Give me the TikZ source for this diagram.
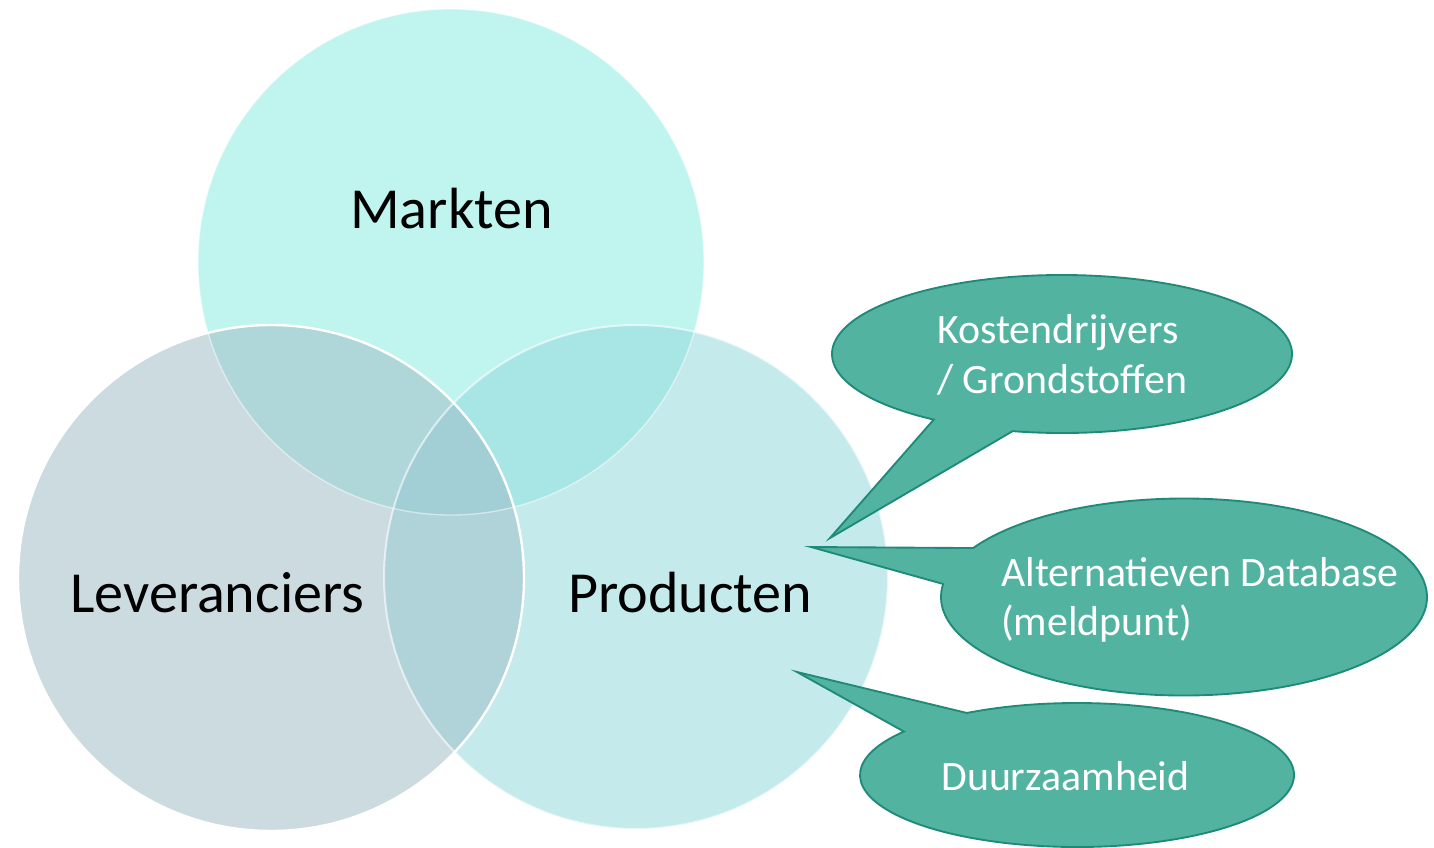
\documentclass[tikz,border=0pt]{standalone}
\usepackage{fontspec}
\setmainfont{Carlito}
\definecolor{cM}{HTML}{C0F5EF}
\definecolor{cL}{HTML}{CCDBE0}
\definecolor{cP}{HTML}{C5EAEB}
\definecolor{cML}{HTML}{AFD7DA}
\definecolor{cMP}{HTML}{A8E6E6}
\definecolor{cLP}{HTML}{B0D3DA}
\definecolor{cMLP}{HTML}{A2CED5}
\definecolor{callfill}{HTML}{52B3A1}
\definecolor{calldraw}{HTML}{1F8A78}
\begin{document}
\begin{tikzpicture}[x=0.75pt,y=-0.75pt,
  bigtext/.style={font=\fontsize{43.6}{52}\selectfont, text=black, inner sep=0pt},
  calltext/.style={font=\fontsize{31.4}{37.5}\selectfont, text=white, inner sep=0pt},
  callout/.style={fill=callfill, draw=calldraw, line width=1.4pt, line join=miter}]
\useasboundingbox (0,0) rectangle (1434,847);
\coordinate (M) at (451,262);
\coordinate (L) at (271,578);
\coordinate (P) at (636,577);
% circle fills
\fill[cM] (M) circle[radius=253];
\fill[cL] (L) circle[radius=253];
\fill[cP] (P) circle[radius=252];
% pairwise overlaps
\begin{scope}\clip (M) circle[radius=253]; \fill[cML] (L) circle[radius=253]; \end{scope}
\begin{scope}\clip (M) circle[radius=253]; \fill[cMP] (P) circle[radius=252]; \end{scope}
\begin{scope}\clip (L) circle[radius=253]; \fill[cLP] (P) circle[radius=252]; \end{scope}
\begin{scope}\clip (M) circle[radius=253]; \clip (L) circle[radius=253]; \fill[cMLP] (P) circle[radius=252]; \end{scope}
% white rims
\draw[white, opacity=0.5, line width=1pt] (M) circle[radius=253];
\draw[white, line width=1.8pt] (L) circle[radius=253];
\draw[white, opacity=0.6, line width=1.5pt] (P) circle[radius=252];
% labels
\node[bigtext, anchor=base west] (tM) at (350,228) {Markten};
\node[bigtext, anchor=base west] (tL) at (70,612) {Leveranciers};
\node[bigtext, anchor=base west] (tP) at (568,612) {Producten};
% callouts
\coordinate (C1) at (1062,354);
\coordinate (T1) at (830,538);
\draw[callout] (C1) ++(102.4:230 and 79) arc[start angle=102.4, end angle=-236.1, x radius=230, y radius=79] -- (T1) -- cycle;
\coordinate (C2) at (1184,597);
\coordinate (T2) at (811,547);
\draw[callout] (C2) ++(209.8:243 and 98.5) arc[start angle=209.8, end angle=547.6, x radius=243, y radius=98.5] -- (T2) -- cycle;
\coordinate (C3) at (1077,775);
\coordinate (T3) at (797,672);
\draw[callout] (C3) ++(239.5:217 and 72) arc[start angle=239.5, end angle=577.1, x radius=217, y radius=72] -- (T3) -- cycle;
% callout texts
\node[calltext, anchor=base west] (k1) at (937,343) {Kostendrijvers};
\node[calltext, anchor=base west] (k2) at (937,393) {/ Grondstoffen};
\node[calltext, anchor=base west] (a1) at (1001,586) {Alternatieven Database};
\node[calltext, anchor=base west] (a2) at (1001,635) {(meldpunt)};
\node[calltext, anchor=base west] (d1) at (941,790) {Duurzaamheid};
\end{tikzpicture}
\end{document}
